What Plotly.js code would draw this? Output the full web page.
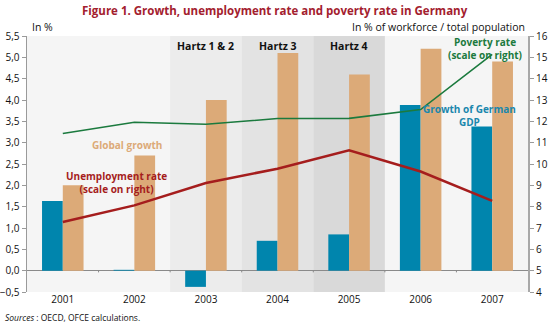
<!DOCTYPE html>
<html>
<head>
<meta charset="utf-8">
<script src="https://cdn.plot.ly/plotly-3.0.1.min.js"></script>
<style>html,body{margin:0;padding:0;background:#fff;}#chart{width:550px;height:325px;}</style>
</head>
<body>
<div id="chart"></div>
<script>
const years = ['2001', '2002', '2003', '2004', '2005', '2006', '2007'];
const germanGdpGrowth = [1.63, 0.02, -0.38, 0.70, 0.85, 3.88, 3.38];
const globalGrowth = [2.0, 2.7, 4.0, 5.1, 4.6, 5.2, 4.9];
const unemploymentRate = [7.28, 8.06, 9.11, 9.78, 10.64, 9.65, 8.27];
const povertyRate = [11.43, 11.96, 11.86, 12.13, 12.14, 12.55, 15.14];
const hartzYears = ['2003', '2004', '2005'];
const hartzLabels = ['Hartz 1 & 2', 'Hartz 3', 'Hartz 4'];
const leftTicks = [-0.5, 0, 0.5, 1, 1.5, 2, 2.5, 3, 3.5, 4, 4.5, 5, 5.5];
const rightTicks = [4, 5, 6, 7, 8, 9, 10, 11, 12, 13, 14, 15, 16];

const FONT = 'Open Sans, Noto Sans, sans-serif';
const bandColors = ['#ececec', '#e3e3e3', '#d9d9d9'];

const traces = [
  {type: 'bar', x: years, y: germanGdpGrowth, marker: {color: '#0085ad'}, name: 'Growth of German GDP'},
  {type: 'bar', x: years, y: globalGrowth, marker: {color: '#dcaa78'}, name: 'Global growth'},
  {type: 'scatter', mode: 'lines', x: years, y: unemploymentRate, yaxis: 'y2', line: {color: '#a51d1d', width: 2.5}, name: 'Unemployment rate'},
  {type: 'scatter', mode: 'lines', x: years, y: povertyRate, yaxis: 'y2', line: {color: '#1b7a3e', width: 1.6}, name: 'Poverty rate'}
];

const shapes = [];
const annotations = [];
hartzYears.forEach((yr, i) => {
  const idx = years.indexOf(yr);
  shapes.push({type: 'rect', xref: 'x', yref: 'paper', x0: idx - 0.5, x1: idx + 0.5, y0: 0, y1: 1,
    fillcolor: bandColors[i], line: {width: 0}, layer: 'below'});
  annotations.push({xref: 'paper', yref: 'paper', x: (idx + 0.5) / 7, y: 0.995, xanchor: 'center', yanchor: 'top', showarrow: false,
    text: '<b>' + hartzLabels[i] + '</b>', font: {family: FONT, size: 10.5, color: '#111'}});
});
// small ticks on the zero line at category boundaries
for (let i = 0; i < years.length - 1; i++) {
  shapes.push({type: 'line', xref: 'x', yref: 'y', x0: i + 0.5, x1: i + 0.5, y0: 0, y1: -0.04,
    line: {color: '#888', width: 1}});
}

const C = {xanchor: 'center', yanchor: 'middle', showarrow: false, align: 'center', xref: 'paper', yref: 'paper'};
annotations.push(
  Object.assign({}, C, {x: 0.495, y: 1, yshift: 26,
   text: '<b>Figure 1. Growth, unemployment rate and poverty rate in Germany</b>', font: {family: FONT, size: 11.5, color: '#a3202e'}}),
  Object.assign({}, C, {x: 0, y: 1, xanchor: 'left', xshift: 3, yshift: 9,
   text: 'In %', font: {family: FONT, size: 10.5, color: '#111'}}),
  Object.assign({}, C, {x: 1, y: 1, xanchor: 'right', xshift: -1, yshift: 9,
   text: 'In % of workforce / total population', font: {family: FONT, size: 10.5, color: '#111'}}),
  Object.assign({}, C, {x: 0.914, y: 0.95,
   text: '<b>Poverty rate<br>(scale on right)</b>', font: {family: FONT, size: 10, color: '#1b7a3e'}}),
  Object.assign({}, C, {x: 0.884, y: 0.689,
   text: '<b>Growth of German<br>GDP</b>', font: {family: FONT, size: 10, color: '#1a87ad'}}),
  Object.assign({}, C, {x: 0.2, y: 0.574,
   text: '<b>Global growth</b>', font: {family: FONT, size: 10, color: '#dcaa78'}}),
  Object.assign({}, C, {x: 0.178, y: 0.428,
   text: '<b>Unemployment rate<br>(scale on right)</b>', font: {family: FONT, size: 10, color: '#a51d1d'}}),
  Object.assign({}, C, {x: 0, y: 0, xanchor: 'left', xshift: -24, yshift: -25,
   text: '<i>Sources</i> : OECD, OFCE calculations.', font: {family: FONT, size: 8.5, color: '#111'}})
);

const layout = {
  width: 550, height: 325,
  margin: {l: 27, r: 22, t: 36, b: 33, pad: 0},
  paper_bgcolor: '#ffffff', plot_bgcolor: '#f5f5f5',
  separators: ',.',
  showlegend: false,
  barmode: 'group', bargap: 0.42, bargroupgap: 0,
  font: {family: FONT, size: 10, color: '#111'},
  xaxis: {type: 'category', range: [-0.5, 6.5], showgrid: false, zeroline: false, showline: false,
    ticks: '', tickfont: {family: FONT, size: 10, color: '#111'}, fixedrange: true},
  yaxis: {range: [-0.5, 5.5], tickvals: leftTicks, tickformat: '.1f', showgrid: false,
    zeroline: true, zerolinecolor: '#8a8a8a', zerolinewidth: 1.5,
    showline: true, linecolor: '#9a9a9a', linewidth: 1.5, ticks: 'outside', ticklen: 4, tickcolor: '#9a9a9a',
    tickfont: {family: FONT, size: 10, color: '#111'}, fixedrange: true},
  yaxis2: {range: [4, 16], tickvals: rightTicks, overlaying: 'y', side: 'right', showgrid: false, zeroline: false,
    showline: true, linecolor: '#a8a8a8', linewidth: 2, ticks: 'outside', ticklen: 4, tickcolor: '#9a9a9a',
    tickfont: {family: FONT, size: 10, color: '#111'}, fixedrange: true},
  shapes: shapes,
  annotations: annotations
};

Plotly.newPlot('chart', traces, layout, {displayModeBar: false, staticPlot: true});
</script>
</body>
</html>
